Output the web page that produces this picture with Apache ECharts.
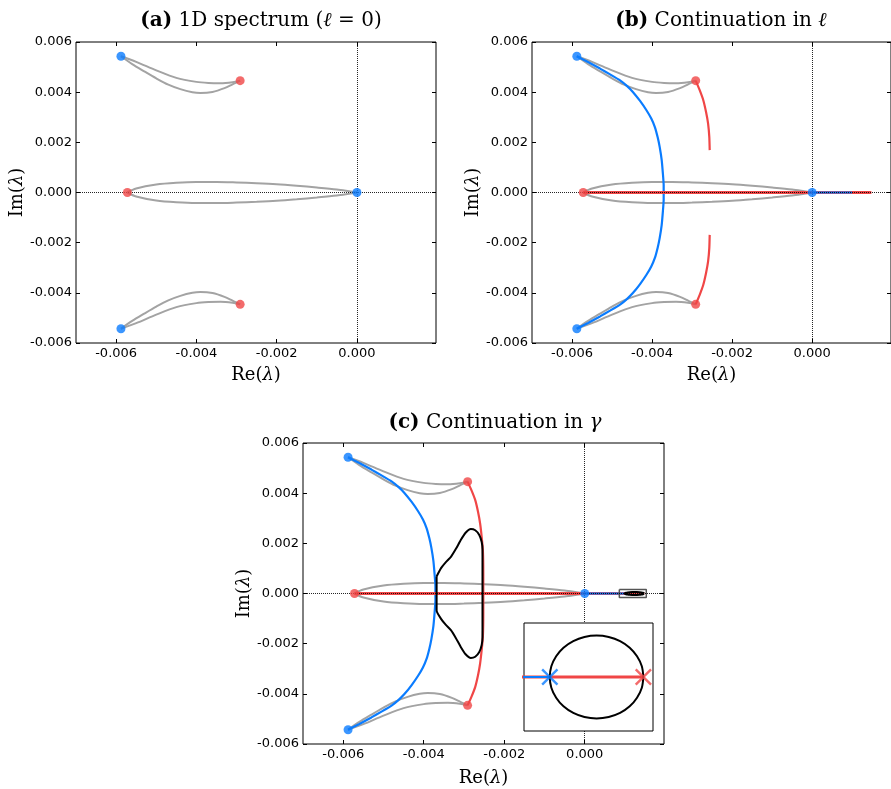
<!DOCTYPE html>
<html>
<head>
<meta charset="utf-8">
<script src="https://cdn.jsdelivr.net/npm/echarts@6/dist/echarts.min.js"></script>
<style>
  html, body { margin: 0; padding: 0; background: #fff; }
  #chart { width: 891px; height: 789px; }
</style>
</head>
<body>
<div id="chart"></div>
<script>
// tick values
const xTicks = [-0.006, -0.004, -0.002, 0];
const yTicks = [-0.006, -0.004, -0.002, 0, 0.002, 0.004, 0.006];

// 1D spectrum branches (gray)
const grayTopUpper = [[-0.00588, 0.00543], [-0.0055, 0.00521], [-0.005, 0.00487], [-0.0045, 0.00457], [-0.004, 0.00441], [-0.0037, 0.00437], [-0.0034, 0.00436], [-0.0031, 0.0044], [-0.00291, 0.00446]];
const grayTopLower = [[-0.00588, 0.00543], [-0.0056, 0.00512], [-0.0053, 0.00483], [-0.005, 0.00455], [-0.0047, 0.0043], [-0.0044, 0.00412], [-0.0041, 0.004], [-0.0039, 0.00397], [-0.0036, 0.00401], [-0.0033, 0.00416], [-0.0031, 0.00431], [-0.00291, 0.00446]];
const grayBotUpper = [[-0.00588, -0.00543], [-0.0056, -0.00512], [-0.0053, -0.00483], [-0.005, -0.00455], [-0.0047, -0.0043], [-0.0044, -0.00412], [-0.0041, -0.004], [-0.0039, -0.00397], [-0.0036, -0.00401], [-0.0033, -0.00416], [-0.0031, -0.00431], [-0.00291, -0.00446]];
const grayBotLower = [[-0.00588, -0.00543], [-0.0055, -0.00521], [-0.005, -0.00487], [-0.0045, -0.00457], [-0.004, -0.00441], [-0.0037, -0.00437], [-0.0034, -0.00436], [-0.0031, -0.0044], [-0.00291, -0.00446]];
const grayLoopUpper = [[-0.00572, 0], [-0.0055, 0.00016], [-0.005, 0.00032], [-0.0045, 0.00039], [-0.004, 0.00042], [-0.0035, 0.00042], [-0.003, 0.0004], [-0.0025, 0.00037], [-0.002, 0.00033], [-0.0015, 0.00027], [-0.001, 0.0002], [-0.0005, 0.00012], [-0.0002, 0.00005], [0, 0]];
const grayLoopLower = [[-0.00572, 0], [-0.0055, -0.00016], [-0.005, -0.00032], [-0.0045, -0.00039], [-0.004, -0.00042], [-0.0035, -0.00042], [-0.003, -0.0004], [-0.0025, -0.00037], [-0.002, -0.00033], [-0.0015, -0.00027], [-0.001, -0.0002], [-0.0005, -0.00012], [-0.0002, -0.00005], [0, 0]];

// end points
const blueDots = [[-0.00588, 0.00543], [-0.00588, -0.00543], [0, 0]];
const redDots = [[-0.00291, 0.00446], [-0.00291, -0.00446], [-0.00572, 0]];

// continuation branches
const blueArc = [[-0.00588, 0.00543], [-0.0056, 0.0052], [-0.0053, 0.00494], [-0.00505, 0.00471], [-0.0048, 0.00447], [-0.00463, 0.00425], [-0.00448, 0.00401], [-0.0043, 0.00365], [-0.00414, 0.00328], [-0.00402, 0.00295], [-0.00393, 0.00261], [-0.00386, 0.0022], [-0.00381, 0.00182], [-0.00376, 0.0013], [-0.00373, 0.00076], [-0.00371, 0.0003], [-0.00371, 0],
  [-0.00371, -0.0003], [-0.00373, -0.00076], [-0.00376, -0.0013], [-0.00381, -0.00182], [-0.00386, -0.0022], [-0.00393, -0.00261], [-0.00402, -0.00295], [-0.00414, -0.00328], [-0.0043, -0.00365], [-0.00448, -0.00401], [-0.00463, -0.00425], [-0.0048, -0.00447], [-0.00505, -0.00471], [-0.0053, -0.00494], [-0.0056, -0.0052], [-0.00588, -0.00543]];
const redArcTop = [[-0.00291, 0.00446], [-0.00281, 0.00408], [-0.00272, 0.00368], [-0.00265, 0.0032], [-0.0026, 0.00275], [-0.00257, 0.00222], [-0.00256, 0.00169]];
const redArcBottom = [[-0.00291, -0.00446], [-0.00281, -0.00408], [-0.00272, -0.00368], [-0.00265, -0.0032], [-0.0026, -0.00275], [-0.00257, -0.00222], [-0.00256, -0.00169]];
const redArcFull = [[-0.00291, 0.00446], [-0.00281, 0.0041], [-0.00272, 0.00372], [-0.00265, 0.00325], [-0.0026, 0.0028], [-0.00256, 0.00225], [-0.00253, 0.0017], [-0.00252, 0.0008], [-0.00252, 0],
  [-0.00252, -0.0008], [-0.00253, -0.0017], [-0.00256, -0.00225], [-0.0026, -0.0028], [-0.00265, -0.00325], [-0.00272, -0.00372], [-0.00281, -0.0041], [-0.00291, -0.00446]];
const redAxisLine = [[-0.00572, 0], [0.00148, 0]];
const blueAxisLine = [[0, 0], [0.000994, 0]];
const blackLoop = [[-0.00368, 0.00068], [-0.00357, 0.00101], [-0.00345, 0.00125], [-0.00332, 0.00147], [-0.0032, 0.00178], [-0.00308, 0.00213], [-0.00296, 0.00242], [-0.00283, 0.00257], [-0.00272, 0.00252], [-0.00262, 0.00233], [-0.00256, 0.00205], [-0.00254, 0.00174], [-0.00254, 0.001], [-0.00254, 0],
  [-0.00254, -0.001], [-0.00254, -0.00174], [-0.00256, -0.00205], [-0.00262, -0.00233], [-0.00272, -0.00252], [-0.00283, -0.00257], [-0.00296, -0.00242], [-0.00308, -0.00213], [-0.0032, -0.00178], [-0.00332, -0.00147], [-0.00345, -0.00125], [-0.00357, -0.00101], [-0.00368, -0.00068], [-0.00368, 0], [-0.00368, 0.00068]];

// zoomed region
const zoomBox = [[0.00086, 0.00016], [0.00153, 0.00016], [0.00153, -0.00016], [0.00086, -0.00016], [0.00086, 0.00016]];
const zoomCircle = [[0.00148, 0], [0.001472, 0.0000159], [0.001447, 0.0000308], [0.001409, 0.0000435], [0.001359, 0.0000533], [0.0013, 0.0000594], [0.001237, 0.0000615], [0.001174, 0.0000594], [0.001116, 0.0000533], [0.001065, 0.0000435], [0.001027, 0.0000308], [0.001002, 0.0000159], [0.000994, 0],
  [0.001002, -0.0000159], [0.001027, -0.0000308], [0.001065, -0.0000435], [0.001116, -0.0000533], [0.001174, -0.0000594], [0.001237, -0.0000615], [0.0013, -0.0000594], [0.001359, -0.0000533], [0.001409, -0.0000435], [0.001447, -0.0000308], [0.001472, -0.0000159], [0.00148, 0]];
const insetBlueX = [[0.000994, 0]];
const insetRedX = [[0.00148, 0]];

const BLUE = '#0a7cff';
const RED = '#f04646';
const GRAY = '#a3a3a3';

const fmt = v => (Math.abs(v) < 1e-12 ? 0 : v).toFixed(3);
const serif = 'DejaVu Serif';
const sans = 'DejaVu Sans';

const grids = [
  { left: 76, top: 42, width: 360, height: 301 },
  { left: 532, top: 42, width: 359, height: 301 },
  { left: 303, top: 443, width: 361, height: 301 }
];

const nameRich = {
  i: { fontFamily: serif, fontStyle: 'italic', fontSize: 18, color: '#000' }
};

const xAxes = [];
const yAxes = [];
grids.forEach((g, gi) => {
  const base = {
    type: 'value', gridIndex: gi, min: -0.007, max: 0.00197,
    axisLine: { show: false, onZero: false },
    splitLine: { show: false },
    axisTick: { inside: true, length: 4, customValues: xTicks, lineStyle: { color: '#000' } }
  };
  xAxes.push(Object.assign({}, base, {
    position: 'bottom',
    name: 'Re({i|λ})', nameLocation: 'middle', nameGap: gi === 2 ? 25 : 23,
    nameTextStyle: { fontFamily: serif, fontSize: 18, color: '#000', rich: nameRich },
    axisLabel: { customValues: xTicks, formatter: fmt, fontFamily: sans, fontSize: 13, color: '#000', margin: 4 }
  }));
  xAxes.push(Object.assign({}, base, { position: 'top', axisLabel: { show: false } }));
  const ybase = {
    type: 'value', gridIndex: gi, min: -0.006, max: 0.006,
    axisLine: { show: false, onZero: false },
    splitLine: { show: false },
    axisTick: { inside: true, length: 4, customValues: yTicks, lineStyle: { color: '#000' } }
  };
  yAxes.push(Object.assign({}, ybase, {
    position: 'left',
    name: 'Im({i|λ})', nameLocation: 'middle', nameGap: 49,
    nameTextStyle: { fontFamily: serif, fontSize: 18, color: '#000', rich: nameRich },
    axisLabel: { customValues: yTicks, formatter: fmt, fontFamily: sans, fontSize: 13, color: '#000', margin: 4 }
  }));
  yAxes.push(Object.assign({}, ybase, { position: 'right', axisLabel: { show: false } }));
});
// inset axes
xAxes.push({ type: 'value', gridIndex: 3, min: 0.00086, max: 0.00153, show: false });
yAxes.push({ type: 'value', gridIndex: 3, min: -0.00008, max: 0.00008, show: false });

const series = [];
function line(data, color, width, ai, z, smooth) {
  series.push({
    type: 'line', data: data, xAxisIndex: ai, yAxisIndex: ai,
    symbol: 'none', showSymbol: false, z: z || 2, silent: true,
    smooth: smooth === undefined ? 0.3 : smooth,
    lineStyle: { color: color, width: width }
  });
}
function dots(data, color, ai) {
  series.push({
    type: 'scatter', data: data, xAxisIndex: ai, yAxisIndex: ai,
    symbolSize: 9, z: 6, silent: true, itemStyle: { color: color }
  });
}
function zeroLines(ai, z) {
  series.push({
    type: 'line', data: [], xAxisIndex: ai, yAxisIndex: ai, z: z, silent: true,
    markLine: {
      silent: true, symbol: 'none', animation: false, label: { show: false },
      lineStyle: { color: '#000', type: 'dotted', width: 1, opacity: 0.85 },
      data: ai === 6 ? [{ yAxis: 0 }] : [{ xAxis: 0 }, { yAxis: 0 }]
    }
  });
}

[0, 2, 4].forEach(ai => {
  [grayTopUpper, grayTopLower, grayBotUpper, grayBotLower, grayLoopUpper, grayLoopLower]
    .forEach(d => line(d, GRAY, 2, ai, 2));
  if (ai === 2) {
    line(redArcTop, RED, 2.2, ai, 3, 0.2);
    line(redArcBottom, RED, 2.2, ai, 3, 0.2);
  }
  if (ai === 4) {
    line(redArcFull, RED, 2.2, ai, 3, 0.2);
    line(blackLoop, '#000', 2, ai, 4, 0.2);
    line(zoomBox, '#555', 1.5, ai, 4, false);
  }
  if (ai > 0) {
    line(blueArc, BLUE, 2.2, ai, 3, 0.15);
    line(redAxisLine, RED, 3, ai, 3, false);
    line(blueAxisLine, BLUE, 2, ai, 3, false);
  }
  if (ai === 4) line(zoomCircle, '#000', 2, ai, 4);
  zeroLines(ai, 5);
  dots(blueDots, BLUE, ai);
  dots(redDots, RED, ai);
});

// inset contents
line(redAxisLine, RED, 3, 6, 21, false);
line(blueAxisLine, BLUE, 2, 6, 21, false);
line(zoomCircle, '#000', 2, 6, 22);
zeroLines(6, 23);
const crossPath = 'path://M0,1L1,0L5,4L9,0L10,1L6,5L10,9L9,10L5,6L1,10L0,9L4,5Z';
series.push({
  type: 'scatter', data: insetBlueX, xAxisIndex: 6, yAxisIndex: 6, z: 24, silent: true,
  symbol: crossPath, symbolSize: 17, itemStyle: { color: BLUE }
});
series.push({
  type: 'scatter', data: insetRedX, xAxisIndex: 6, yAxisIndex: 6, z: 24, silent: true,
  symbol: crossPath, symbolSize: 17, itemStyle: { color: RED }
});

const titleStyle = {
  fontFamily: serif, fontSize: 20, fontWeight: 'normal', color: '#000',
  rich: {
    b: { fontFamily: serif, fontSize: 20, fontWeight: 'bold', color: '#000' },
    i: { fontFamily: serif, fontSize: 20, fontStyle: 'italic', color: '#000' }
  }
};

const chart = echarts.init(document.getElementById('chart'));
chart.setOption({
  animation: false,
  backgroundColor: '#fff',
  title: [
    { text: '{b|(a)} 1D spectrum ({i|ℓ} = 0)', left: 256, top: 6, textAlign: 'center', textStyle: titleStyle },
    { text: '{b|(b)} Continuation in {i|ℓ}', left: 716, top: 6, textAlign: 'center', textStyle: titleStyle },
    { text: '{b|(c)} Continuation in {i|γ}', left: 490, top: 408, textAlign: 'center', textStyle: titleStyle }
  ],
  grid: grids.map(g => Object.assign({ show: true, borderColor: '#000', borderWidth: 1, backgroundColor: 'transparent', z: 0 }, g))
    .concat([{ left: 524, top: 623, width: 129, height: 108, show: true, borderColor: '#000', borderWidth: 1, backgroundColor: '#fff', z: 20 }]),
  xAxis: xAxes,
  yAxis: yAxes,
  series: series
});
</script>
</body>
</html>
